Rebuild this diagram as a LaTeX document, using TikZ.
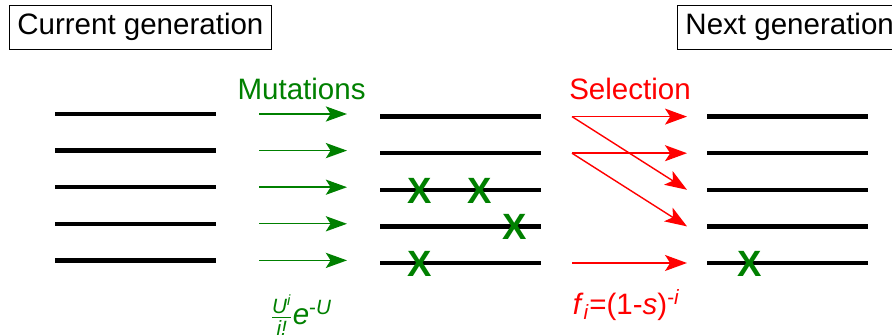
\documentclass[tikz,border=0pt]{standalone}
\usepackage{amsmath}
\usepackage{fontspec}
\setmainfont{Liberation Sans}
\usepackage{xcolor}
\usetikzlibrary{arrows.meta}
\definecolor{mutgreen}{RGB}{0,128,0}

\begin{document}
\begin{tikzpicture}[
    genline/.style={line width=3pt,black},
    bigtext/.style={font=\fontsize{21}{25}\selectfont,inner sep=0pt},
    genbox/.style={draw,line width=0.7pt,font=\fontsize{21}{25}\selectfont,inner xsep=0.2cm,minimum height=1.1cm},
    mut/.style={-{Stealth[length=5.3mm,width=3.8mm,inset=1.2mm]},line width=1pt,mutgreen},
    sel/.style={-{Stealth[length=5.5mm,width=4mm,inset=1.3mm]},line width=1pt,red},
    hit/.style={font=\fontsize{26}{30}\selectfont\bfseries,text=mutgreen,inner sep=0pt}
]
\useasboundingbox (0,0) rectangle (22.3,8.375);
\clip (0,0) rectangle (22.3,8.375);

%%% generation boxes
\node[genbox] (curbox) at (3.51,7.7) {Current generation};
\node[genbox,anchor=west] (nextbox) at (16.925,7.7) {Next generation};

%%% genomes: current, mutated, next
\foreach \k in {1,...,5} {
  \pgfmathsetmacro{\yc}{5.525-0.915*(\k-1)}
  \pgfmathsetmacro{\yn}{5.46-0.915*(\k-1)}
  \coordinate (cw\k) at (1.375,\yc);  \coordinate (ce\k) at (5.4,\yc);
  \coordinate (ms\k) at (6.475,\yc);  \coordinate (me\k) at (8.675,\yc);
  \coordinate (mw\k) at (9.5,\yn);    \coordinate (mx\k) at (13.525,\yn);
  \coordinate (ss\k) at (14.3,\yn);   \coordinate (st\k) at (17.175,\yn);
  \coordinate (nw\k) at (17.675,\yn); \coordinate (nx\k) at (21.7,\yn);
  \draw[genline] (cw\k) -- (ce\k);
  \draw[genline] (mw\k) -- (mx\k);
  \draw[genline] (nw\k) -- (nx\k);
  % mutation step
  \draw[mut] (ms\k) -- (me\k);
}

% selection step: fitter genomes copied more often
\draw[sel] (ss1) -- (st1);
\draw[sel] (ss1) -- (st3);
\draw[sel] (ss2) -- (st2);
\draw[sel] (ss2) -- (st4);
\draw[sel] (ss5) -- (st5);

% mutations carried by the genomes
\node[hit] (x31) at (10.5,3.6) {X};
\node[hit] (x32) at (12.0,3.6) {X};
\node[hit] (x41) at (12.875,2.69) {X};
\node[hit] (x51) at (10.5,1.78) {X};
\node[hit] (n51) at (18.75,1.78) {X};

%%% step labels
\node[bigtext,text=mutgreen,anchor=base] (mutlbl) at (7.54,5.875) {Mutations};
\node[bigtext,text=red,anchor=base] (sellbl) at (15.75,5.89) {Selection};
\node[bigtext,text=mutgreen,anchor=base] (mutrate) at (7.53,0.25)
  {$\frac{\text{\itshape U}^{\text{\itshape i}}}{\text{\itshape i!}}$\textit{e}\textsuperscript{-\textit{U}}};
\node[bigtext,text=red,anchor=base] (fitness) at (15.66,0.5)
  {\textit{f}\textsubscript{\textit{i}}=(1-\textit{s})\textsuperscript{-\textit{i}}};
\end{tikzpicture}
\end{document}
